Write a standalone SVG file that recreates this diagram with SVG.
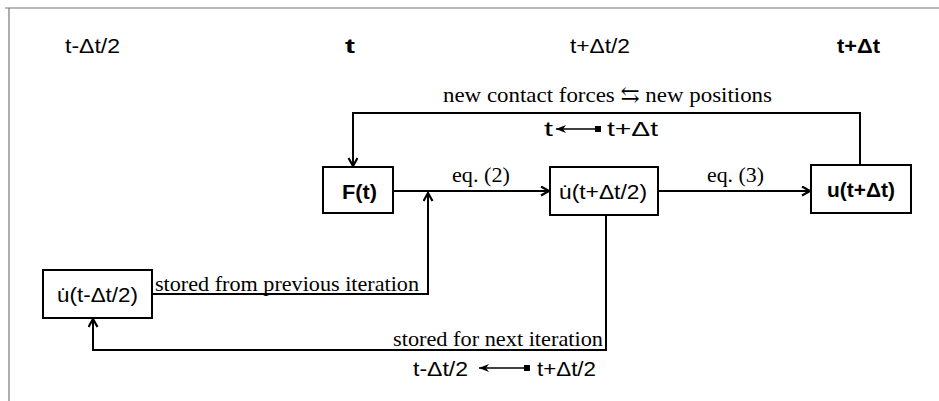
<svg xmlns="http://www.w3.org/2000/svg" width="939" height="401" viewBox="0 0 939 401">
<style>
.sans{font-family:"Liberation Sans",Arial,sans-serif;font-size:21px;fill:#000}
.bold{font-weight:bold}
.serif{font-family:"Liberation Serif","Times New Roman","DejaVu Serif",serif;font-size:22px;fill:#000}
.box{fill:#fff;stroke:#000;stroke-width:2}
.conn{fill:none;stroke:#000;stroke-width:2}
.small{fill:none;stroke:#000;stroke-width:1.5}
.frame{fill:none;stroke:#777;stroke-width:1.2}
</style>
<defs>
<marker id="open" markerUnits="userSpaceOnUse" markerWidth="12" markerHeight="12" refX="9" refY="5" orient="auto">
<path d="M1,0.5 L9,5 L1,9.5" fill="none" stroke="#000" stroke-width="2.2"/>
</marker>
<marker id="fill" markerUnits="userSpaceOnUse" markerWidth="12" markerHeight="10" refX="10" refY="4" orient="auto">
<path d="M0,0 L10,4 L0,8 L3,4 Z" fill="#000"/>
</marker>
<marker id="sq" markerUnits="userSpaceOnUse" markerWidth="6" markerHeight="6" refX="3" refY="3" orient="auto">
<rect x="0" y="0" width="6" height="6" fill="#000"/>
</marker>
</defs>
<rect width="939" height="401" fill="#fff"/>
<g id="frame">
<path class="frame" d="M5,8 H939"/>
<path class="frame" d="M9,8 V401"/>
</g>
<g id="timeline">
<text class="sans" x="65" y="53" textLength="55" lengthAdjust="spacingAndGlyphs">t-Δt/2</text>
<text class="sans bold" x="345" y="53" textLength="10" lengthAdjust="spacingAndGlyphs">t</text>
<text class="sans" x="570" y="53" textLength="60" lengthAdjust="spacingAndGlyphs">t+Δt/2</text>
<text class="sans bold" x="837" y="53" textLength="43" lengthAdjust="spacingAndGlyphs">t+Δt</text>
</g>
<g id="connectors">
<path class="conn" d="M860,165 V113 H353 V166" marker-end="url(#open)"/>
<path class="conn" d="M393,191 H549" marker-end="url(#open)"/>
<path class="conn" d="M658,191 H810" marker-end="url(#open)"/>
<path class="conn" d="M152,294 H428 V193" marker-end="url(#open)"/>
<path class="conn" d="M606,215 V350 H93 V319" marker-end="url(#open)"/>
<path class="small" d="M598,129 H556" marker-start="url(#sq)" marker-end="url(#fill)"/>
<path class="small" d="M527,368 H479" marker-start="url(#sq)" marker-end="url(#fill)"/>
</g>
<g id="labels">
<text class="serif" x="443" y="102" textLength="329" lengthAdjust="spacingAndGlyphs">new contact forces ⇆ new positions</text>
<text class="sans" x="544" y="136" textLength="9" lengthAdjust="spacingAndGlyphs">t</text>
<text class="sans" x="607" y="136" textLength="51" lengthAdjust="spacingAndGlyphs">t+Δt</text>
<text class="serif" x="452" y="182" textLength="58" lengthAdjust="spacingAndGlyphs">eq. (2)</text>
<text class="serif" x="707" y="182" textLength="57" lengthAdjust="spacingAndGlyphs">eq. (3)</text>
<text class="serif" x="155" y="291" textLength="264" lengthAdjust="spacingAndGlyphs">stored from previous iteration</text>
<text class="serif" x="393" y="346" textLength="210" lengthAdjust="spacingAndGlyphs">stored for next iteration</text>
<text class="sans" x="413" y="376" textLength="55" lengthAdjust="spacingAndGlyphs">t-Δt/2</text>
<text class="sans" x="537" y="376" textLength="59" lengthAdjust="spacingAndGlyphs">t+Δt/2</text>
</g>
<g id="node-F">
<rect class="box" x="323" y="167" width="70" height="46"/>
<text class="sans bold" x="342" y="199" textLength="35" lengthAdjust="spacingAndGlyphs">F(t)</text>
</g>
<g id="node-udot-half">
<rect class="box" x="550" y="167" width="108" height="48"/>
<text class="sans" x="559" y="199" textLength="88" lengthAdjust="spacingAndGlyphs">u̇(t+Δt/2)</text>
</g>
<g id="node-u">
<rect class="box" x="811" y="165" width="100" height="48"/>
<text class="sans bold" x="827" y="197" textLength="68" lengthAdjust="spacingAndGlyphs">u(t+Δt)</text>
</g>
<g id="node-udot-prev">
<rect class="box" x="43" y="270" width="109" height="48"/>
<text class="sans" x="57" y="302" textLength="81" lengthAdjust="spacingAndGlyphs">u̇(t-Δt/2)</text>
</g>
</svg>
